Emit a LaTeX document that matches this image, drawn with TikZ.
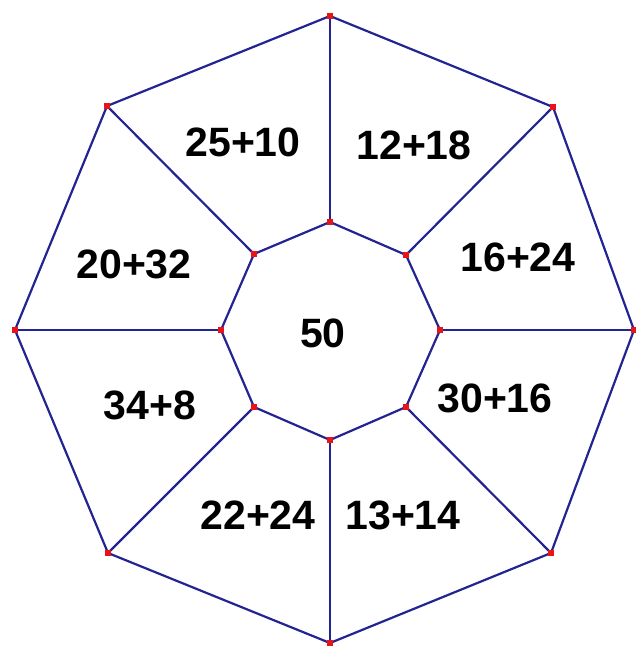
\documentclass[tikz,border=0pt]{standalone}
\usepackage{fontspec}
\setmainfont{Liberation Sans}
\definecolor{edge}{RGB}{35,35,145}
\definecolor{dot}{RGB}{235,20,20}
\begin{document}
\begin{tikzpicture}[x=1pt,y=-1pt,
  edgeline/.style={draw=edge,line width=2.2pt},
  vdot/.style={fill=dot,inner sep=0pt,minimum size=6pt,rectangle},
  lbl/.style={font=\bfseries\fontsize{41}{41}\selectfont,inner sep=0pt}]
\useasboundingbox (0,0) rectangle (636,648);
% outer vertices
\coordinate (o1) at (330,16);
\coordinate (o2) at (553,107);
\coordinate (o3) at (634,330);
\coordinate (o4) at (551,553);
\coordinate (o5) at (330,643);
\coordinate (o6) at (108,553);
\coordinate (o7) at (15,330);
\coordinate (o8) at (107,106);
% inner vertices
\coordinate (i1) at (330,222);
\coordinate (i2) at (406,255);
\coordinate (i3) at (440,330);
\coordinate (i4) at (406,407);
\coordinate (i5) at (330,440);
\coordinate (i6) at (254,407);
\coordinate (i7) at (221,330);
\coordinate (i8) at (254,254);
\draw[edgeline] (o1)--(o2)--(o3)--(o4)--(o5)--(o6)--(o7)--(o8)--cycle;
\draw[edgeline] (i1)--(i2)--(i3)--(i4)--(i5)--(i6)--(i7)--(i8)--cycle;
\foreach \k in {1,...,8}{\draw[edgeline] (o\k)--(i\k);}
\foreach \k in {1,...,8}{
  \node[vdot] (do\k) at (o\k) {};
  \node[vdot] (di\k) at (i\k) {};}
\node[lbl] (t1) at (243,142) {25+10};
\node[lbl] (t2) at (414,145) {12+18};
\node[lbl] (t3) at (134,264) {20+32};
\node[lbl] (t4) at (518,257) {16+24};
\node[lbl] (t5) at (323,333) {50};
\node[lbl] (t6) at (150,405) {34+8};
\node[lbl] (t7) at (495,398) {30+16};
\node[lbl] (t8) at (258,515) {22+24};
\node[lbl] (t9) at (403,515) {13+14};
\end{tikzpicture}
\end{document}
